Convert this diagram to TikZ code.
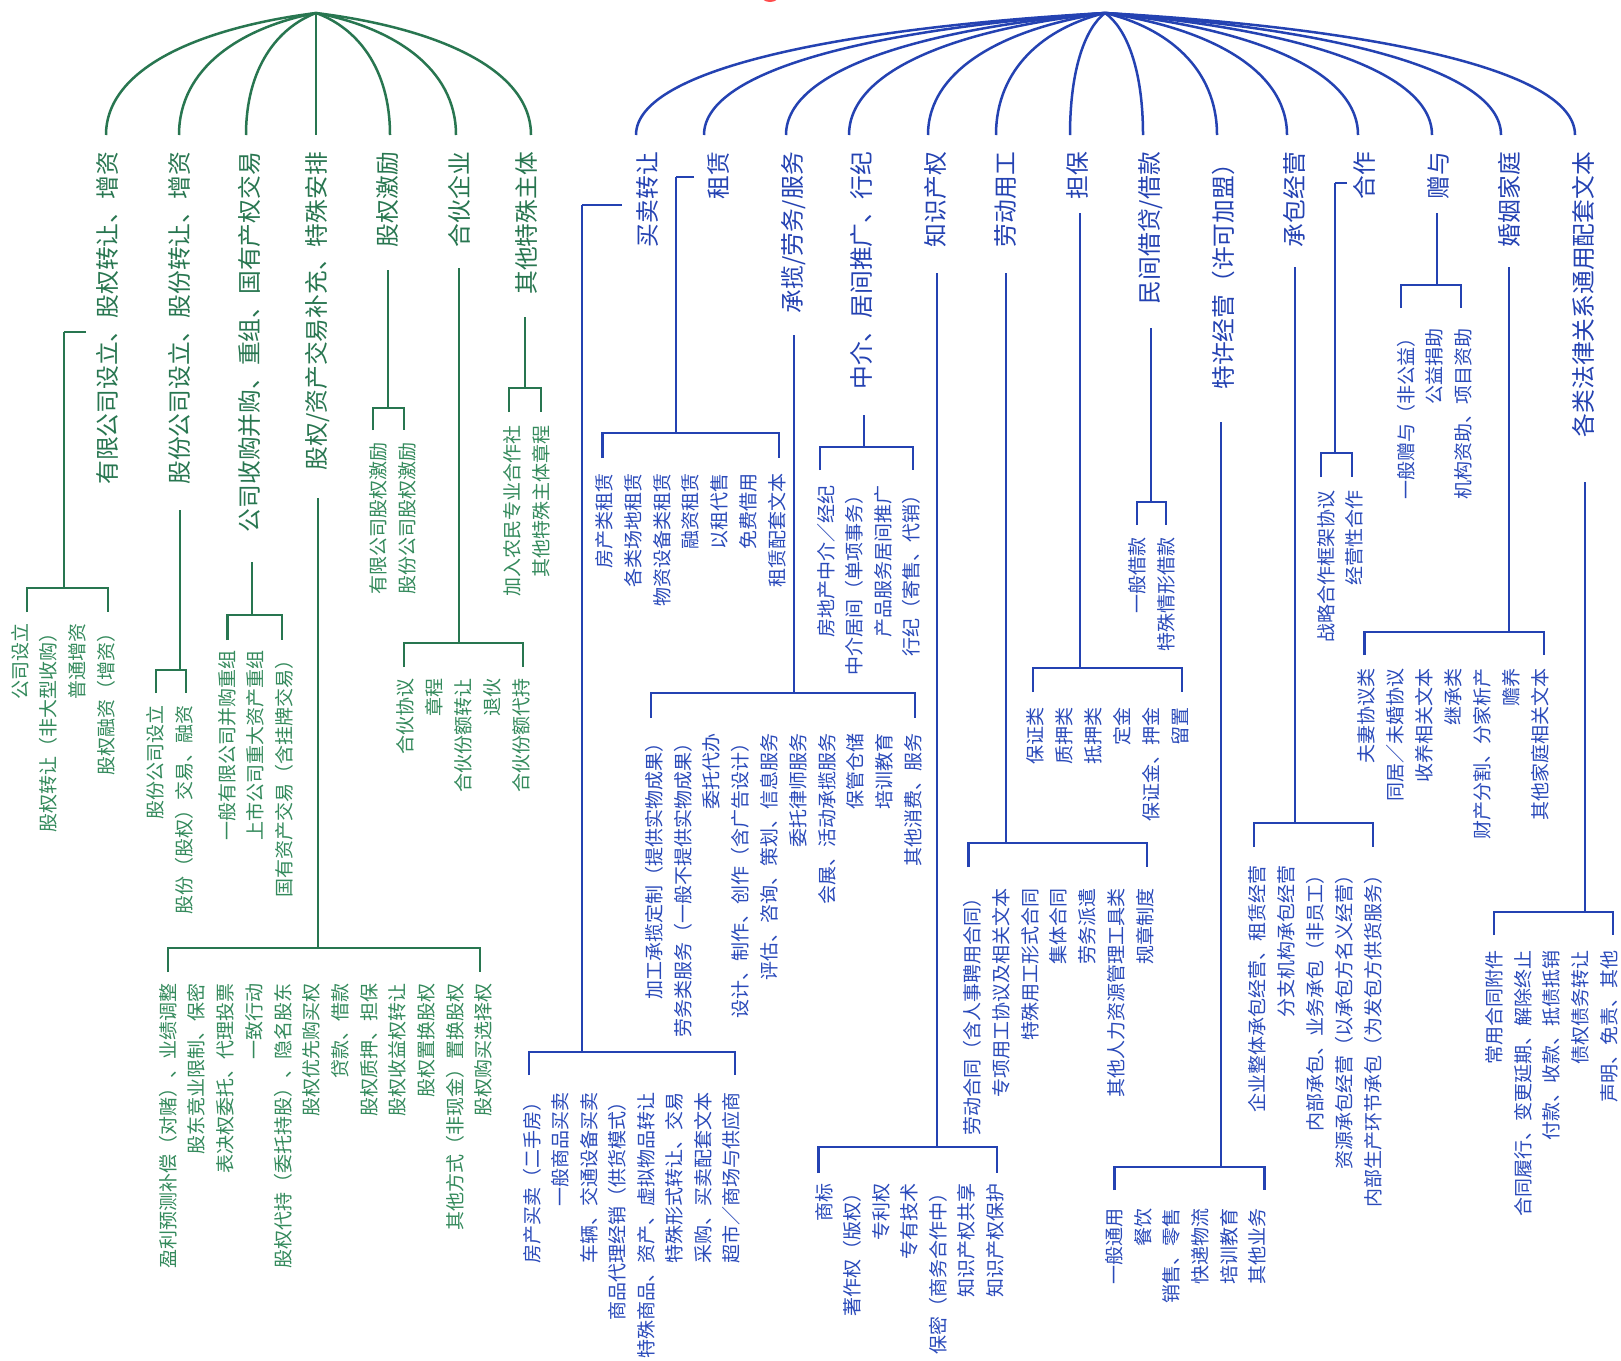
\documentclass[tikz,border=0pt]{standalone}
\usepackage{fontspec}
\newfontfamily\cjk{Noto Sans CJK SC}
\usetikzlibrary{calc}
\definecolor{gline}{RGB}{40,118,80}
\definecolor{gtext}{RGB}{52,138,92}
\definecolor{bline}{RGB}{36,66,178}
\definecolor{btext}{RGB}{42,74,186}
\tikzset{
 hd/.style={rotate=90, anchor=east, inner sep=0pt, font=\cjk\fontsize{23.75}{28}\selectfont},
 lf/.style={rotate=90, anchor=east, inner sep=0pt, font=\cjk\fontsize{19}{22}\selectfont},
 ln/.style={line width=2.5pt},
}
% fan arc from apex #1 to arc end #2
\newcommand\fanto[2]{\draw[ln] let \p1=(#1), \p2=(#2) in (\p1) .. controls ({\x1+0.55*(\x2-\x1)},{\y1+0.12*(\y2-\y1)}) and ({\x2},{\y2-0.55*(\y2-\y1)}) .. (\p2);}
% leaves: #1 prefix, #2 first x, #3 step, #4 top y, #5 list
\newcommand\leaves[5]{\foreach \t [count=\i from 0] in {#5} {\node[lf] (#1-\i) at ({#2+\i*#3},#4) {\t};}}
% group: #1 name, #2 stem x, #3 stem top, #4 bracket y, #5 left x, #6 right x, #7 tick end y
\newcommand\grp[7]{%
 \coordinate (#1s) at (#2,#3);
 \coordinate (#1j) at (#2,#4);
 \coordinate (#1l) at (#5,#4);
 \coordinate (#1r) at (#6,#4);
 \coordinate (#1lt) at (#5,#7);
 \coordinate (#1rt) at (#6,#7);
 \draw[ln] (#1s) -- (#1j);
 \draw[ln] (#1lt) -- (#1l) -- (#1r) -- (#1rt);}
\begin{document}
\begin{tikzpicture}[x=1pt,y=-1pt]
\useasboundingbox (0,0) rectangle (1621,1360);
\fill[white] (0,0) rectangle (1621,1360);
\fill[red!70!white] (770,-6) ellipse (10 and 8);
\coordinate (GA) at (316,13);
\coordinate (BA) at (1105,13);
% ================= GREEN =================
\begin{scope}[draw=gline, text=gline]
\node[hd] (g1) at (107,152) {有限公司设立、股权转让、增资};
\node[hd] (g2) at (179,152) {股份公司设立、股份转让、增资};
\node[hd] (g3) at (249,152) {公司收购并购、重组、国有产权交易};
\node[hd] (g4) at (318,152) {股权/资产交易补充、特殊安排};
\node[hd] (g5) at (388,152) {股权激励};
\node[hd] (g6) at (459,152) {合伙企业};
\node[hd] (g7) at (527,152) {其他特殊主体};
\coordinate (g1t) at (106,135);
\coordinate (g2t) at (179,135);
\coordinate (g3t) at (246,135);
\coordinate (g4t) at (316,135);
\coordinate (g5t) at (390,135);
\coordinate (g6t) at (456,135);
\coordinate (g7t) at (531,135);
\foreach \k in {1,...,7} {\fanto{GA}{g\k t}}
% groups
\grp{G1}{64}{332}{588}{27}{108}{612}
\coordinate (G1u) at (86,332);
\draw[ln] (G1u) -- (G1s);
\grp{G2}{180}{510}{670}{156}{186}{693}
\grp{G3}{252}{562}{615}{227.5}{282}{640}
\grp{G4}{318}{498}{948}{168}{480}{972}
\grp{G5}{388}{270}{408}{373}{404}{430}
\grp{G6}{459}{268}{643}{404}{523}{667}
\grp{G7}{525}{317}{388}{509}{541}{412}
\end{scope}
\begin{scope}[text=gtext]
\leaves{l1}{20}{28.6}{623}{公司设立,股权转让（非大型收购）,普通增资,股权融资（增资）}
\leaves{l2}{155}{29}{705}{股份公司设立,股份（股权）交易、融资}
\leaves{l3}{227}{28.5}{650}{一般有限公司并购重组,上市公司重大资产重组,国有资产交易（含挂牌交易）}
\leaves{l4}{168}{28.7}{983}{盈利预测补偿（对赌）、业绩调整,股东竞业限制、保密,表决权委托、代理投票,一致行动,股权代持（委托持股）、隐名股东,股权优先购买权,贷款、借款,股权质押、担保,股权收益权转让,股权置换股权,其他方式（非现金）置换股权,股权购买选择权}
\leaves{l5}{378.6}{28.5}{442}{有限公司股权激励,股份公司股权激励}
\leaves{l6}{405}{29}{678}{合伙协议,章程,合伙份额转让,退伙,合伙份额代持}
\leaves{l7}{512}{29}{425}{加入农民专业合作社,其他特殊主体章程}
\end{scope}
% ================= BLUE =================
\begin{scope}[draw=bline, text=bline]
\node[hd] (b1) at (647,152) {买卖转让};
\node[hd] (b2) at (718.6,152) {租赁};
\node[hd] (b3) at (793.6,152) {承揽/劳务/服务};
\node[hd] (b4) at (861,152) {中介、居间推广、行纪};
\node[hd] (b5) at (936,152) {知识产权};
\node[hd] (b6) at (1006,152) {劳动用工};
\node[hd] (b7) at (1077.5,152) {担保};
\node[hd] (b8) at (1151,152) {民间借贷/借款};
\node[hd] (b9) at (1223,152) {特许经营（许可加盟）};
\node[hd] (b10) at (1294,152) {承包经营};
\node[hd] (b11) at (1364.5,152) {合作};
\node[hd] (b12) at (1438.6,152) {赠与};
\node[hd] (b13) at (1509,152) {婚姻家庭};
\node[hd] (b14) at (1583.5,152) {各类法律关系通用配套文本};
\coordinate (b1t) at (636,135);
\coordinate (b2t) at (704,135);
\coordinate (b3t) at (786,135);
\coordinate (b4t) at (849,135);
\coordinate (b5t) at (928,135);
\coordinate (b6t) at (996,135);
\coordinate (b7t) at (1070,135);
\coordinate (b8t) at (1143,135);
\coordinate (b9t) at (1217,135);
\coordinate (b10t) at (1287,135);
\coordinate (b11t) at (1358,135);
\coordinate (b12t) at (1432,135);
\coordinate (b13t) at (1501,135);
\coordinate (b14t) at (1575,135);
\foreach \k in {1,...,14} {\fanto{BA}{b\k t}}
\grp{B1}{582}{205}{1052}{529}{735}{1075}
\coordinate (B1u) at (622,205);
\draw[ln] (B1u) -- (B1s);
\grp{B2}{676}{177}{433}{602.5}{779}{458}
\coordinate (B2u) at (694,177);
\draw[ln] (B2u) -- (B2s);
\grp{B3}{794}{335}{693}{651}{915}{718}
\grp{B4}{864}{415}{447}{820}{913}{470}
\grp{B5}{937}{273}{1147}{818.6}{997}{1173}
\grp{B6}{1006}{273}{843}{968.6}{1147}{867}
\grp{B7}{1080}{213}{668}{1033}{1182}{692}
\grp{B8}{1151}{328}{502}{1137}{1166}{525}
\grp{B9}{1221}{422}{1167}{1114.5}{1264.5}{1190}
\grp{B10}{1295}{267}{823}{1254}{1373}{847}
\grp{B11}{1335}{183}{453}{1321}{1352}{477}
\coordinate (B11u) at (1347,183);
\draw[ln] (B11u) -- (B11s);
\grp{B12}{1437}{213}{285}{1401}{1461}{308}
\grp{B13}{1509}{267}{632}{1364.5}{1544}{655}
\grp{B14}{1585}{482}{912}{1494}{1613}{935}
\end{scope}
\begin{scope}[text=btext]
\leaves{m1}{532}{28.5}{1092}{房产买卖（二手房）,一般商品买卖,车辆、交通设备买卖,商品代理经销（供货模式）,特殊商品、资产、虚拟物品转让,特殊形式转让、交易,采购、买卖配套文本,超市／商场与供应商}
\leaves{m2}{604}{28.9}{473}{房产类租赁,各类场地租赁,物资设备类租赁,融资租赁,以租代售,免费借用,租赁配套文本}
\leaves{m3}{654}{28.8}{733}{加工承揽定制（提供实物成果）,劳务类服务（一般不提供实物成果）,委托代办,设计、制作、创作（含广告设计）,评估、咨询、策划、信息服务,委托律师服务,会展、活动承揽服务,保管仓储,培训教育,其他消费、服务}
\leaves{m4}{826}{28.5}{485}{房地产中介／经纪,中介居间（单项事务）,产品服务居间推广,行纪（寄售、代销）}
\leaves{m5}{824}{28.5}{1183}{商标,著作权（版权）,专利权,专有技术,保密（商务合作中）,知识产权共享,知识产权保护}
\leaves{m6}{972}{28.9}{888}{劳动合同（含人事聘用合同）,专项用工协议及相关文本,特殊用工形式合同,集体合同,劳务派遣,其他人力资源管理工具类,规章制度}
\leaves{m7}{1035}{29}{707}{保证类,质押类,抵押类,定金,保证金、押金,留置}
\leaves{m8}{1137}{29}{537}{一般借款,特殊情形借款}
\leaves{m9}{1114.5}{28.6}{1208}{一般通用,餐饮,销售、零售,快递物流,培训教育,其他业务}
\leaves{m10}{1257.6}{28.9}{865}{企业整体承包经营、租赁经营,分支机构承包经营,内部承包、业务承包（非员工）,资源承包经营（以承包方名义经营）,内部生产环节承包（为发包方供货服务）}
\leaves{m11}{1326.6}{27.5}{490}{战略合作框架协议,经营性合作}
\leaves{m12}{1406}{28.5}{328}{一般赠与（非公益）,公益捐助,机构资助、项目资助}
\leaves{m13}{1366}{29}{668}{夫妻协议类,同居／未婚协议,收养相关文本,继承类,财产分割、分家析产,赡养,其他家庭相关文本}
\leaves{m14}{1494}{28.8}{950}{常用合同附件,合同履行、变更延期、解除终止,付款、收款、抵债抵销,债权债务转让,声明、免责、其他}
\end{scope}
\end{tikzpicture}
\end{document}
